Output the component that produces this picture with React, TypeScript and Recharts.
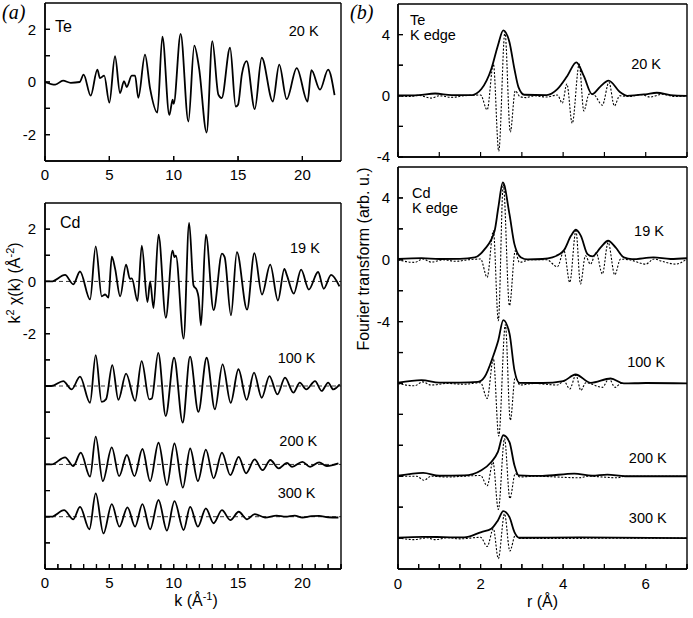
import React from 'react';
import { LineChart, Line, XAxis, YAxis, ReferenceLine, ReferenceDot, Text } from 'recharts';

const FONT = '"Liberation Sans", Arial, Helvetica, sans-serif';
const INK = '#000';

type Pair = [number, number];
type Pt = { x: number; y: number };

// ---------- Panel (a), top: Te K edge, k^2 chi(k), 20 K ----------
const te20K: Pair[] = [
  [0, 0], [0.8, -0.1], [1.4, 0.05], [2.0, -0.03], [2.7, 0], [3.0, 0.28], [3.55, -0.52], [4.07, 0.47],
  [4.27, 0.15], [4.6, 0.24], [5.0, -0.78], [5.44, 0.98], [5.83, -0.42], [6.14, 0.03], [6.35, -0.19],
  [6.74, 0.24], [7.0, 0.24], [7.25, -0.6], [7.77, 1.04], [8.16, -0.23], [8.73, -1.16], [9.12, 1.72],
  [9.66, -1.25], [9.92, -0.67], [10.0, -0.83], [10.54, 1.83], [11.14, -1.5], [11.6, 1.38], [11.97, 0.53],
  [12.56, -1.92], [13.0, 1.55], [13.47, -0.48], [13.73, -0.61], [14.38, 1.3], [14.82, -0.93], [15.0, -0.86],
  [15.3, 0.3], [15.67, 0.79], [16.3, -1.03], [16.84, 0.92], [17.7, -0.74], [18.2, 0.66], [18.78, -0.65],
  [19.56, 0.53], [20.4, -0.74], [20.7, 0.45], [21.37, -0.29], [22.0, 0.47], [22.5, -0.5],
];

// ---------- Panel (a), bottom: Cd K edge, k^2 chi(k) ----------
const cd19K: Pair[] = [
  [0, 0], [0.5, 0], [1.56, 0.25], [2.2, -0.11], [2.72, 0.38], [3.5, -0.69], [3.94, 1.34], [4.41, -0.57],
  [4.67, -0.5], [4.93, -0.62], [5.19, 0.95], [5.45, 0.48], [5.84, -0.57], [6.3, 0.64], [6.6, 0.1],
  [6.75, 0.12], [7.19, -0.75], [7.52, 1.37], [7.96, -0.79], [8.17, 0.0], [8.43, -1.02], [8.82, 1.79],
  [9.39, -1.39], [9.91, 1.18], [10.06, 0.93], [10.17, 0.99], [10.77, -2.19], [11.2, 2.24], [11.54, -0.15],
  [11.8, -0.34], [11.93, -0.6], [12.12, -1.68], [12.5, 1.79], [13.1, -1.1], [13.75, 1.06], [13.96, 0.93],
  [14.45, -1.3], [14.91, 1.12], [15.7, -1.08], [16.27, 1.08], [16.86, -0.5], [17.5, 0.64], [18.1, -0.73],
  [18.6, 0.48], [18.8, 0.23], [19.33, -0.47], [19.9, 0.45], [20.5, -0.31], [21.22, 0.36], [21.66, -0.28],
  [22.23, 0.25], [22.88, -0.19],
];
const cd100K: Pair[] = [
  [0, 0], [0.5, 0], [1.42, 0.19], [2.07, -0.13], [2.72, 0.36], [3.5, -0.64], [3.94, 1.18], [4.4, -0.61],
  [4.75, -0.5], [5.23, 0.8], [5.7, -0.53], [6.3, 0.47], [7.0, -0.57], [7.51, 0.95], [8.1, -0.51],
  [8.3, -0.48], [8.8, 1.27], [9.38, -1.15], [10.03, 1.08], [10.7, -1.4], [11.27, 1.12], [11.92, -0.99],
  [12.56, 1.08], [13.2, -0.89], [13.8, 0.83], [14.43, -0.64], [15.03, 0.64], [15.67, -0.53], [16.24, 0.51],
  [16.84, -0.45], [17.44, 0.38], [18.06, -0.32], [18.65, 0.32], [19.3, -0.25], [19.8, 0.13], [20.3, -0.13],
  [20.98, 0.19], [21.5, -0.19], [22.0, 0.13], [22.4, -0.13], [22.9, 0.06],
];
const cd200K: Pair[] = [
  [0, 0], [0.5, 0], [1.56, 0.27], [2.2, -0.06], [2.78, 0.45], [3.5, -0.47], [3.94, 1.06], [4.49, -0.64],
  [5.19, 0.65], [5.76, -0.45], [6.36, 0.36], [6.95, -0.45], [7.57, 0.59], [8.17, -0.64], [8.82, 0.83],
  [9.47, -0.79], [10.06, 0.8], [10.71, -0.89], [11.28, 0.61], [11.88, -0.64], [12.5, 0.57], [13.1, -0.53],
  [13.75, 0.45], [14.4, -0.41], [15.05, 0.29], [15.62, -0.34], [16.29, 0.19], [16.91, -0.22], [17.51, 0.17],
  [18.16, -0.15], [18.8, 0.06], [19.2, -0.09], [20.0, 0.1], [20.6, -0.09], [21.3, 0.08], [21.9, -0.06],
  [22.8, 0.04],
];
const cd300K: Pair[] = [
  [0, 0], [0.5, 0], [1.48, 0.25], [2.2, -0.1], [2.72, 0.38], [3.45, -0.48], [3.94, 0.89], [4.54, -0.64],
  [5.19, 0.48], [5.78, -0.38], [6.41, 0.36], [7.0, -0.38], [7.57, 0.48], [8.17, -0.48], [8.82, 0.64],
  [9.47, -0.53], [10.06, 0.6], [10.77, -0.51], [11.28, 0.38], [11.88, -0.38], [12.5, 0.32], [13.1, -0.25],
  [13.75, 0.25], [14.4, -0.13], [15.05, 0.19], [15.7, -0.1], [16.3, 0.1], [17.1, -0.03], [18.0, 0.04],
  [18.7, 0.0], [19.4, 0.04], [20.0, -0.03], [20.7, 0.02], [21.3, 0.03], [22.0, -0.02], [22.8, -0.03],
];
const cdOffsetsA = [0, -4, -7, -9];

// ---------- Panel (b), top: Te K edge Fourier transform, 20 K ----------
const teMag20K: Pair[] = [
  [0, 0.02], [0.5, 0.05], [0.9, 0.15], [1.3, 0.05], [1.8, 0.05], [1.9, 0.15], [2.02, 0.44], [2.26, 1.75],
  [2.42, 3.29], [2.55, 4.28], [2.7, 3.5], [2.82, 1.75], [2.92, 0.55], [3.06, 0.07], [3.6, 0.05],
  [3.86, 0.44], [4.1, 1.3], [4.32, 2.19], [4.5, 1.3], [4.7, 0.11], [4.9, 0.6], [5.1, 0.99], [5.39, 0.22],
  [5.55, 0.0], [6.0, 0.1], [6.27, 0.2], [6.6, 0.05], [7.0, 0.0],
];
const teRe20K: Pair[] = [
  [0, 0], [0.3, -0.05], [0.5, 0.03], [0.8, -0.15], [1.0, 0.0], [1.3, -0.1], [1.6, 0], [2.0, 0.05],
  [2.16, -0.92], [2.31, 2.08], [2.44, -3.62], [2.59, 4.17], [2.72, -2.37], [2.84, 0.33], [2.95, -0.05],
  [3.1, -0.12], [3.3, 0.0], [3.6, -0.08], [3.86, 0.05], [3.98, -0.48], [4.09, 0.77], [4.22, -1.8],
  [4.39, 2.08], [4.5, -0.99], [4.63, 0.11], [4.75, 0.05], [4.95, -0.61], [5.11, 0.88], [5.24, -0.66],
  [5.37, 0.0], [5.6, -0.05], [5.9, 0.08], [6.1, -0.08], [6.4, 0.1], [6.7, -0.05], [7.0, 0.0],
];

// ---------- Panel (b), bottom: Cd K edge Fourier transforms ----------
const cdMag19K: Pair[] = [
  [0, 0.05], [0.57, 0.1], [1.0, 0.05], [1.5, 0.06], [1.86, 0.15], [2.1, 0.69], [2.34, 1.87], [2.43, 3.38],
  [2.54, 5.0], [2.7, 2.95], [2.82, 1.01], [2.98, 0.15], [3.14, 0.02], [3.5, 0.05], [3.74, 0.15],
  [4.02, 0.62], [4.19, 1.55], [4.31, 1.94], [4.43, 1.55], [4.59, 0.37], [4.71, 0.22], [4.91, 0.8],
  [5.09, 1.23], [5.27, 0.8], [5.47, 0.15], [5.67, 0.04], [6.19, 0.15], [6.6, 0.05], [7.0, 0.1],
];
const cdRe19K: Pair[] = [
  [0, 0], [0.4, -0.17], [0.6, 0.05], [0.8, -0.15], [1.1, 0.0], [1.4, -0.1], [1.7, 0.0], [2.0, 0.05],
  [2.16, -1.14], [2.31, 1.87], [2.43, -3.94], [2.55, 4.88], [2.7, -2.97], [2.84, 0.58], [2.94, -0.17],
  [3.2, 0.0], [3.6, 0.0], [3.86, -0.45], [4.02, 0.58], [4.16, -1.46], [4.31, 1.87], [4.42, -1.57],
  [4.54, 0.26], [4.66, -0.28], [4.8, 0.45], [4.95, -0.92], [5.09, 1.12], [5.25, -0.97], [5.39, 0.04],
  [5.6, 0.0], [6.0, -0.28], [6.2, 0.05], [6.4, -0.1], [6.72, -0.28], [7.0, 0.05],
];
const cdMag100K: Pair[] = [
  [0, 0.05], [0.57, 0.22], [1.0, 0.05], [1.5, 0.05], [1.94, 0.1], [2.1, 0.43], [2.3, 1.73], [2.43, 2.8],
  [2.55, 4.1], [2.7, 3.24], [2.82, 0.86], [2.94, 0.04], [3.5, 0.03], [4.0, 0.15], [4.3, 0.58], [4.67, 0.04],
  [5.15, 0.32], [5.47, 0.0], [6.0, 0.03], [7.0, 0.0],
];
const cdRe100K: Pair[] = [
  [0, 0], [0.4, -0.15], [0.6, 0.1], [0.8, -0.1], [1.2, 0.0], [1.6, -0.05], [2.0, 0.05], [2.16, -0.97],
  [2.31, 1.62], [2.44, -3.4], [2.6, 3.8], [2.72, -2.38], [2.84, 0.43], [2.95, -0.1], [3.3, 0.0],
  [3.86, -0.1], [4.02, 0.15], [4.16, -0.35], [4.31, 0.54], [4.43, -0.45], [4.55, 0.05], [4.95, -0.25],
  [5.11, 0.3], [5.26, -0.25], [5.4, 0.0], [7.0, 0.0],
];
const cdMag200K: Pair[] = [
  [0, 0.03], [0.61, 0.22], [1.0, 0.03], [1.6, 0.05], [2.02, 0.39], [2.26, 0.92], [2.42, 1.57], [2.55, 2.65],
  [2.7, 2.2], [2.82, 0.71], [2.92, 0.06], [3.5, 0.02], [4.27, 0.17], [4.7, 0.03], [5.07, 0.1], [5.5, 0.0],
  [7.0, 0.0],
];
const cdRe200K: Pair[] = [
  [0, 0], [0.45, 0.0], [0.63, -0.26], [0.8, 0.0], [1.2, -0.05], [1.6, 0.0], [2.0, 0.05], [2.16, -0.62],
  [2.3, 0.92], [2.43, -2.15], [2.58, 2.43], [2.71, -1.44], [2.84, 0.17], [2.95, -0.05], [3.3, 0.0],
  [4.4, -0.1], [4.6, 0.0], [5.3, -0.1], [5.5, 0.0], [7.0, 0.0],
];
const cdMag300K: Pair[] = [
  [0, 0.02], [0.6, 0.08], [1.1, 0.06], [1.6, 0.04], [2.02, 0.39], [2.26, 0.6], [2.42, 1.14], [2.55, 1.74],
  [2.7, 1.35], [2.82, 0.39], [2.94, 0.02], [4.4, 0.04], [7.0, 0.0],
];
const cdRe300K: Pair[] = [
  [0, 0], [0.4, -0.1], [0.7, 0.02], [0.9, -0.1], [1.2, 0.02], [1.5, -0.05], [2.0, 0.05], [2.16, -0.54],
  [2.31, 0.6], [2.43, -1.33], [2.58, 1.57], [2.71, -0.84], [2.84, 0.17], [2.95, -0.02], [7.0, 0.0],
];
const cdOffsetsB = [0, -8, -14, -18];

// ---------- Axes: domains and ticks ----------
const K_DOMAIN: [number, number] = [0, 23];
const R_DOMAIN: [number, number] = [0, 7];
const TE_CHI_DOMAIN: [number, number] = [-3, 3];
const CD_CHI_DOMAIN: [number, number] = [-11, 3];
const TE_FT_DOMAIN: [number, number] = [-4, 6];
const CD_FT_DOMAIN: [number, number] = [-20, 6];
const kTicksMajor = [0, 5, 10, 15, 20];
const kTicksAll = Array.from({ length: 24 }, (_, i) => i);
const rTicksInt = [0, 1, 2, 3, 4, 5, 6, 7];
const rTicksHalf = Array.from({ length: 15 }, (_, i) => i / 2);
const rTickLabels = [0, 2, 4, 6];
const teYTicks = [-2, -1, 0, 1, 2];
const cdYTicksA = Array.from({ length: 13 }, (_, i) => i - 10);
const chiLabels = [-2, 0, 2];
const ftYTicksTop = [-4, -2, 0, 2, 4];
const ftYTicksBottom = Array.from({ length: 12 }, (_, i) => 2 * i - 18);
const ftLabels = [-4, 0, 4];

const toPts = (pairs: Pair[], offset = 0): Pt[] => pairs.map(([x, y]) => ({ x, y: y + offset }));

const teChiPts = toPts(te20K);
const cd19Pts = toPts(cd19K, cdOffsetsA[0]);
const cd100Pts = toPts(cd100K, cdOffsetsA[1]);
const cd200Pts = toPts(cd200K, cdOffsetsA[2]);
const cd300Pts = toPts(cd300K, cdOffsetsA[3]);
const teMagPts = toPts(teMag20K);
const teRePts = toPts(teRe20K);
const mag19Pts = toPts(cdMag19K, cdOffsetsB[0]);
const re19Pts = toPts(cdRe19K, cdOffsetsB[0]);
const mag100Pts = toPts(cdMag100K, cdOffsetsB[1]);
const re100Pts = toPts(cdRe100K, cdOffsetsB[1]);
const mag200Pts = toPts(cdMag200K, cdOffsetsB[2]);
const re200Pts = toPts(cdRe200K, cdOffsetsB[2]);
const mag300Pts = toPts(cdMag300K, cdOffsetsB[3]);
const re300Pts = toPts(cdRe300K, cdOffsetsB[3]);

// tick label renderers
const makeTick = (labels: number[]) => (props: any) => {
  const { x, y, payload, textAnchor, verticalAnchor } = props;
  const v = payload ? payload.value : NaN;
  if (!labels.some((l) => Math.abs(l - v) < 1e-9)) return <g />;
  return (
    <Text x={x} y={y} textAnchor={textAnchor} verticalAnchor={verticalAnchor} fill={INK} fontSize={15}>
      {String(v)}
    </Text>
  );
};
const tickK = makeTick(kTicksMajor);
const tickR = makeTick(rTickLabels);
const tickChi = makeTick(chiLabels);
const tickFt = makeTick(ftLabels);

const AXIS_LINE = { stroke: INK, strokeWidth: 1.4 };
const TICK_LINE = { stroke: INK, strokeWidth: 1.2 };
const TICK = -5;

const kTitle = (p: any) => {
  const vb = (p && p.viewBox) || { x: 45, y: 379, width: 296 };
  return (
    <text x={vb.x + vb.width / 2 + 3} y={vb.y + 37} textAnchor="middle" fill={INK} fontSize={16}>
      k (Å<tspan dy={-6} fontSize={11}>-1</tspan>
      <tspan dy={6}>)</tspan>
    </text>
  );
};
const rTitle = (p: any) => {
  const vb = (p && p.viewBox) || { x: 48, y: 404, width: 289 };
  return (
    <text x={vb.x + vb.width / 2} y={vb.y + 38} textAnchor="middle" fill={INK} fontSize={16}>
      r (Å)
    </text>
  );
};
const chiTitle = () => (
  <text transform="translate(20,93) rotate(-90)" textAnchor="middle" fill={INK} fontSize={16}>
    k<tspan dy={-6} fontSize={11}>2</tspan>
    <tspan dy={6}> χ(k) (Å</tspan>
    <tspan dy={-6} fontSize={11}>-2</tspan>
    <tspan dy={6}>)</tspan>
  </text>
);
const ftTitle = () => (
  <text transform="translate(19,94) rotate(-90)" textAnchor="middle" fill={INK} fontSize={16}>
    Fourier transform (arb. u.)
  </text>
);

const lbl = (text: string, size: number, left = false) => ({
  value: text,
  position: (left ? 'right' : 'center') as any,
  offset: 0,
  fill: INK,
  fontSize: size,
});

const SOLID = { type: 'monotone' as const, stroke: INK, strokeWidth: 1.8, dot: false, activeDot: false };
const DOTTED = { type: 'monotone' as const, stroke: INK, strokeWidth: 1.1, strokeDasharray: '2 1.6', dot: false, activeDot: false };
const BASE = { stroke: INK, strokeWidth: 0.8, strokeDasharray: '4 3' };

// plot frames (page pixels), used for the left/bottom frame edges drawn on top
type FrameBox = {
  left: number; top: number; right: number; bottom: number;
  xDomain: [number, number]; yDomain: [number, number]; xTicks: number[]; yTicks: number[];
};
const FRAMES: FrameBox[] = [
  { left: 45, top: 3, right: 341, bottom: 161, xDomain: K_DOMAIN, yDomain: TE_CHI_DOMAIN, xTicks: kTicksMajor, yTicks: teYTicks },
  { left: 45, top: 203, right: 341, bottom: 569, xDomain: K_DOMAIN, yDomain: CD_CHI_DOMAIN, xTicks: kTicksAll, yTicks: cdYTicksA },
  { left: 398, top: 4, right: 687, bottom: 157, xDomain: R_DOMAIN, yDomain: TE_FT_DOMAIN, xTicks: rTicksInt, yTicks: ftYTicksTop },
  { left: 398, top: 167, right: 687, bottom: 569, xDomain: R_DOMAIN, yDomain: CD_FT_DOMAIN, xTicks: rTicksHalf, yTicks: ftYTicksBottom },
];

function FrameEdges() {
  return (
    <svg width={693} height={618} style={{ position: 'absolute', left: 0, top: 0, pointerEvents: 'none' }}>
      {FRAMES.map((f, i) => {
        const sx = (v: number) => f.left + ((v - f.xDomain[0]) / (f.xDomain[1] - f.xDomain[0])) * (f.right - f.left);
        const sy = (v: number) => f.bottom - ((v - f.yDomain[0]) / (f.yDomain[1] - f.yDomain[0])) * (f.bottom - f.top);
        return (
          <g key={i} stroke={INK}>
            <line x1={f.left} y1={f.top} x2={f.left} y2={f.bottom} strokeWidth={1.4} />
            <line x1={f.left} y1={f.bottom} x2={f.right} y2={f.bottom} strokeWidth={1.4} />
            {f.xTicks.map((t) => (
              <line key={`x${t}`} x1={sx(t)} y1={f.bottom} x2={sx(t)} y2={f.bottom + TICK} strokeWidth={1.2} />
            ))}
            {f.yTicks.map((t) => (
              <line key={`y${t}`} x1={f.left} y1={sy(t)} x2={f.left - TICK} y2={sy(t)} strokeWidth={1.2} />
            ))}
          </g>
        );
      })}
    </svg>
  );
}

const letterStyle: React.CSSProperties = {
  position: 'absolute',
  top: 1,
  fontFamily: '"Liberation Serif", "DejaVu Serif", serif',
  fontStyle: 'italic',
  fontSize: 20,
  lineHeight: '22px',
};

export default function App() {
  const [pass, setPass] = React.useState(0);
  React.useEffect(() => {
    setPass(1);
    const t = setTimeout(() => setPass(2), 60);
    return () => clearTimeout(t);
  }, []);
  return (
    <div
      data-pass={pass}
      style={{ position: 'absolute', left: 0, top: 0, width: 693, height: 618, background: '#fff', fontFamily: FONT }}
    >
      {/* (a) top: Te */}
      <div style={{ position: 'absolute', left: 0, top: 0 }}>
        <LineChart width={350} height={190} margin={{ top: 2, right: 8, bottom: 0, left: 0 }}>
          <XAxis type="number" dataKey="x" domain={K_DOMAIN} allowDataOverflow ticks={kTicksMajor} interval={0} height={29}
            tickSize={TICK} tickMargin={13} stroke={INK} axisLine={AXIS_LINE} tickLine={TICK_LINE} tick={tickK} />
          <XAxis xAxisId="top" orientation="top" type="number" dataKey="x" domain={K_DOMAIN} allowDataOverflow ticks={kTicksMajor}
            interval={0} height={1} tickSize={TICK} stroke={INK} axisLine={AXIS_LINE} tickLine={TICK_LINE} tick={false} />
          <YAxis type="number" domain={TE_CHI_DOMAIN} allowDataOverflow ticks={teYTicks} interval={0} width={45} tickSize={TICK}
            tickMargin={14} stroke={INK} axisLine={AXIS_LINE} tickLine={TICK_LINE} tick={tickChi} />
          <YAxis yAxisId="right" orientation="right" type="number" domain={TE_CHI_DOMAIN} allowDataOverflow ticks={teYTicks}
            interval={0} width={1} tickSize={TICK} stroke={INK} axisLine={AXIS_LINE} tickLine={TICK_LINE} tick={false} />
          <Line xAxisId="top" yAxisId="right" data={teChiPts} dataKey="y" stroke="none" dot={false} activeDot={false} isAnimationActive={false} />
          <Line data={teChiPts} dataKey="y" {...SOLID} isAnimationActive={false} />
          <ReferenceDot x={0.78} y={2.13} r={0} fill="none" stroke="none" label={lbl('Te', 16, true)} />
          <ReferenceDot x={20.1} y={1.94} r={0} fill="none" stroke="none" label={lbl('20 K', 14.5)} />
        </LineChart>
      </div>

      {/* (a) bottom: Cd */}
      <div style={{ position: 'absolute', left: 0, top: 190 }}>
        <LineChart width={350} height={428} margin={{ top: 12, right: 8, bottom: 0, left: 0 }}>
          <XAxis type="number" dataKey="x" domain={K_DOMAIN} allowDataOverflow ticks={kTicksAll} interval={0} height={49}
            tickSize={TICK} tickMargin={13} stroke={INK} axisLine={AXIS_LINE} tickLine={TICK_LINE} tick={tickK} label={kTitle} />
          <XAxis xAxisId="top" orientation="top" type="number" dataKey="x" domain={K_DOMAIN} allowDataOverflow ticks={kTicksAll}
            interval={0} height={1} tickSize={TICK} stroke={INK} axisLine={AXIS_LINE} tickLine={TICK_LINE} tick={false} />
          <YAxis type="number" domain={CD_CHI_DOMAIN} allowDataOverflow ticks={cdYTicksA} interval={0} width={45} tickSize={TICK}
            tickMargin={14} stroke={INK} axisLine={AXIS_LINE} tickLine={TICK_LINE} tick={tickChi} label={chiTitle} />
          <YAxis yAxisId="right" orientation="right" type="number" domain={CD_CHI_DOMAIN} allowDataOverflow ticks={cdYTicksA}
            interval={0} width={1} tickSize={TICK} stroke={INK} axisLine={AXIS_LINE} tickLine={TICK_LINE} tick={false} />
          <Line xAxisId="top" yAxisId="right" data={cd19Pts} dataKey="y" stroke="none" dot={false} activeDot={false} isAnimationActive={false} />
          <ReferenceLine y={cdOffsetsA[0]} {...BASE} />
          <ReferenceLine y={cdOffsetsA[1]} {...BASE} />
          <ReferenceLine y={cdOffsetsA[2]} {...BASE} />
          <ReferenceLine y={cdOffsetsA[3]} {...BASE} />
          <Line data={cd19Pts} dataKey="y" {...SOLID} isAnimationActive={false} />
          <Line data={cd100Pts} dataKey="y" {...SOLID} isAnimationActive={false} />
          <Line data={cd200Pts} dataKey="y" {...SOLID} isAnimationActive={false} />
          <Line data={cd300Pts} dataKey="y" {...SOLID} isAnimationActive={false} />
          <ReferenceDot x={1.17} y={2.25} r={0} fill="none" stroke="none" label={lbl('Cd', 16, true)} />
          <ReferenceDot x={20.2} y={1.3} r={0} fill="none" stroke="none" label={lbl('19 K', 14.5)} />
          <ReferenceDot x={19.55} y={-2.92} r={0} fill="none" stroke="none" label={lbl('100 K', 14.5)} />
          <ReferenceDot x={19.68} y={-6.1} r={0} fill="none" stroke="none" label={lbl('200 K', 14.5)} />
          <ReferenceDot x={19.55} y={-8.07} r={0} fill="none" stroke="none" label={lbl('300 K', 14.5)} />
        </LineChart>
      </div>

      {/* (b) top: Te FT */}
      <div style={{ position: 'absolute', left: 350, top: 0 }}>
        <LineChart width={343} height={165} margin={{ top: 3, right: 5, bottom: 0, left: 0 }}>
          <XAxis type="number" dataKey="x" domain={R_DOMAIN} allowDataOverflow ticks={rTicksInt} interval={0} height={8}
            tickSize={TICK} stroke={INK} axisLine={AXIS_LINE} tickLine={TICK_LINE} tick={false} />
          <XAxis xAxisId="top" orientation="top" type="number" dataKey="x" domain={R_DOMAIN} allowDataOverflow ticks={rTicksInt}
            interval={0} height={1} tickSize={TICK} stroke={INK} axisLine={AXIS_LINE} tickLine={TICK_LINE} tick={false} />
          <YAxis type="number" domain={TE_FT_DOMAIN} allowDataOverflow ticks={ftYTicksTop} interval={0} width={48} tickSize={TICK}
            tickMargin={13} stroke={INK} axisLine={AXIS_LINE} tickLine={TICK_LINE} tick={tickFt} />
          <YAxis yAxisId="right" orientation="right" type="number" domain={TE_FT_DOMAIN} allowDataOverflow ticks={ftYTicksTop}
            interval={0} width={1} tickSize={TICK} stroke={INK} axisLine={AXIS_LINE} tickLine={TICK_LINE} tick={false} />
          <Line xAxisId="top" yAxisId="right" data={teMagPts} dataKey="y" stroke="none" dot={false} activeDot={false} isAnimationActive={false} />
          <Line data={teRePts} dataKey="y" {...DOTTED} isAnimationActive={false} />
          <Line data={teMagPts} dataKey="y" {...SOLID} isAnimationActive={false} />
          <ReferenceDot x={0.29} y={4.97} r={0} fill="none" stroke="none" label={lbl('Te', 14.5, true)} />
          <ReferenceDot x={0.29} y={3.97} r={0} fill="none" stroke="none" label={lbl('K edge', 14.5, true)} />
          <ReferenceDot x={6.01} y={2.1} r={0} fill="none" stroke="none" label={lbl('20 K', 14.5)} />
        </LineChart>
      </div>

      {/* (b) bottom: Cd FT */}
      <div style={{ position: 'absolute', left: 350, top: 165 }}>
        <LineChart width={343} height={453} margin={{ top: 1, right: 5, bottom: 0, left: 0 }}>
          <XAxis type="number" dataKey="x" domain={R_DOMAIN} allowDataOverflow ticks={rTicksHalf} interval={0} height={49}
            tickSize={TICK} tickMargin={14} stroke={INK} axisLine={AXIS_LINE} tickLine={TICK_LINE} tick={tickR} label={rTitle} />
          <XAxis xAxisId="top" orientation="top" type="number" dataKey="x" domain={R_DOMAIN} allowDataOverflow ticks={rTicksInt}
            interval={0} height={1} tickSize={TICK} stroke={INK} axisLine={AXIS_LINE} tickLine={TICK_LINE} tick={false} />
          <YAxis type="number" domain={CD_FT_DOMAIN} allowDataOverflow ticks={ftYTicksBottom} interval={0} width={48} tickSize={TICK}
            tickMargin={13} stroke={INK} axisLine={AXIS_LINE} tickLine={TICK_LINE} tick={tickFt} label={ftTitle} />
          <YAxis yAxisId="right" orientation="right" type="number" domain={CD_FT_DOMAIN} allowDataOverflow ticks={ftYTicksBottom}
            interval={0} width={1} tickSize={TICK} stroke={INK} axisLine={AXIS_LINE} tickLine={TICK_LINE} tick={false} />
          <Line xAxisId="top" yAxisId="right" data={mag19Pts} dataKey="y" stroke="none" dot={false} activeDot={false} isAnimationActive={false} />
          <Line data={re19Pts} dataKey="y" {...DOTTED} isAnimationActive={false} />
          <Line data={re100Pts} dataKey="y" {...DOTTED} isAnimationActive={false} />
          <Line data={re200Pts} dataKey="y" {...DOTTED} isAnimationActive={false} />
          <Line data={re300Pts} dataKey="y" {...DOTTED} isAnimationActive={false} />
          <Line data={mag19Pts} dataKey="y" {...SOLID} isAnimationActive={false} />
          <Line data={mag100Pts} dataKey="y" {...SOLID} isAnimationActive={false} />
          <Line data={mag200Pts} dataKey="y" {...SOLID} isAnimationActive={false} />
          <Line data={mag300Pts} dataKey="y" {...SOLID} isAnimationActive={false} />
          <ReferenceDot x={0.34} y={4.32} r={0} fill="none" stroke="none" label={lbl('Cd', 14.5, true)} />
          <ReferenceDot x={0.34} y={3.34} r={0} fill="none" stroke="none" label={lbl('K edge', 14.5, true)} />
          <ReferenceDot x={6.08} y={1.9} r={0} fill="none" stroke="none" label={lbl('19 K', 14.5)} />
          <ReferenceDot x={6.01} y={-6.58} r={0} fill="none" stroke="none" label={lbl('100 K', 14.5)} />
          <ReferenceDot x={6.05} y={-12.84} r={0} fill="none" stroke="none" label={lbl('200 K', 14.5)} />
          <ReferenceDot x={6.05} y={-16.7} r={0} fill="none" stroke="none" label={lbl('300 K', 14.5)} />
        </LineChart>
      </div>

      <FrameEdges />

      <div style={{ ...letterStyle, left: 2 }}>(a)</div>
      <div style={{ ...letterStyle, left: 350 }}>(b)</div>
    </div>
  );
}
